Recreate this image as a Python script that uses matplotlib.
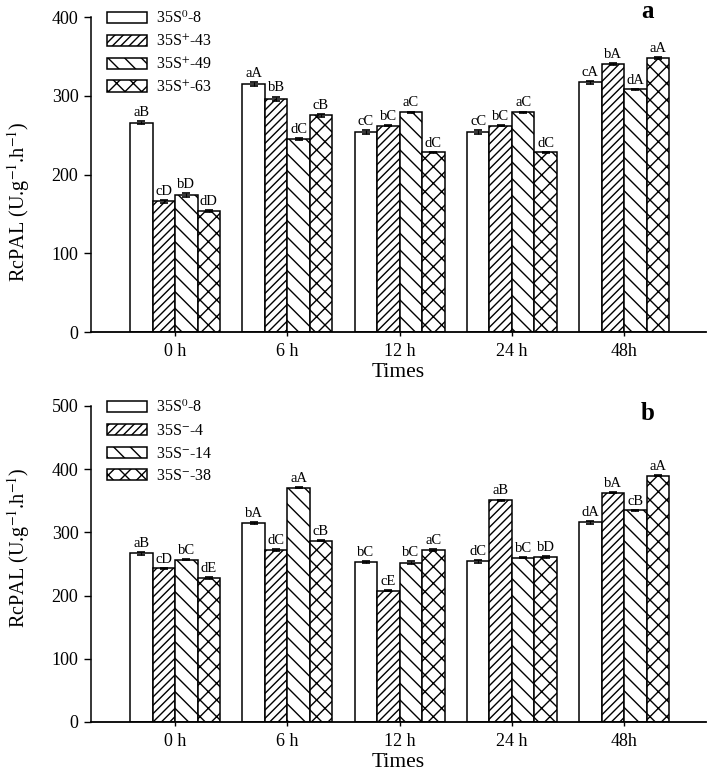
import numpy as np
import matplotlib
matplotlib.use("Agg")
import matplotlib.pyplot as plt

plt.rcParams['font.family'] = ['Liberation Serif', 'DejaVu Serif']
plt.rcParams['mathtext.fontset'] = 'stix'
plt.rcParams['hatch.linewidth'] = 1.0

# --- datos
times = ["0 h", "6 h", "12 h", "24 h", "48h"]

labels_a = ["35S$^{\\mathrm{0}}$-8", "35S$^{+}$-43", "35S$^{+}$-49", "35S$^{+}$-63"]
vals_a = [
    [266, 315, 254, 254, 317],   # 35S0-8
    [166, 296, 262, 262, 340],   # 35S+-43
    [174, 245, 279, 279, 308],   # 35S+-49
    [154, 275, 228, 228, 348],   # 35S+-63
]
err_a = [
    [2, 2, 2, 2, 2],
    [2, 3, 1, 1, 1],
    [2, 1, 1, 1, 1],
    [1, 2, 1, 1, 1],
]
let_a = [
    ["aB", "aA", "cC", "cC", "cA"],
    ["cD", "bB", "bC", "bC", "bA"],
    ["bD", "dC", "aC", "aC", "dA"],
    ["dD", "cB", "dC", "dC", "aA"],
]

labels_b = ["35S$^{\\mathrm{0}}$-8", "35S$^{-}$-4", "35S$^{-}$-14", "35S$^{-}$-38"]
vals_b = [
    [267, 315, 253, 254, 316],   # 35S0-8
    [243, 272, 208, 351, 363],   # 35S--4
    [257, 371, 252, 260, 335],   # 35S--14
    [228, 287, 272, 261, 390],   # 35S--38
]
err_b = [
    [2, 2, 2, 2, 2],
    [1, 1, 1, 1, 1],
    [1, 1, 2, 1, 1],
    [1, 1, 2, 1, 1],
]
let_b = [
    ["aB", "bA", "bC", "dC", "dA"],
    ["cD", "dC", "cE", "aB", "bA"],
    ["bC", "aA", "bC", "bC", "cB"],
    ["dE", "cB", "aC", "bD", "aA"],
]

hatches = ["", "////", "\\\\", "xx"]
W = 0.2


def panel(ax, vals, errs, lets, labels, ymax, ylab_y):
    x = np.arange(len(times))
    for i in range(4):
        pos = x + (i - 1.5) * W
        ax.bar(pos, vals[i], W, yerr=errs[i], color="white", edgecolor="black",
               hatch=hatches[i], linewidth=1.1, label=labels[i],
               error_kw=dict(elinewidth=0.8, capsize=3, capthick=1.2, ecolor="black"))
        for p, v, e, t in zip(pos, vals[i], errs[i], lets[i]):
            ax.annotate(t, (p, v + e), xytext=(0, 1.5), textcoords="offset points",
                        ha="center", va="bottom", fontsize=10.5)
    ax.set_xlim(-0.75, 4.73)
    ax.set_ylim(0, ymax)
    ax.set_yticks(np.arange(0, ymax + 1, 100))
    ax.set_xticks(x)
    ax.set_xticklabels(times)
    ax.spines["top"].set_visible(False)
    ax.spines["right"].set_visible(False)
    ax.spines["left"].set_linewidth(1.1)
    ax.spines["bottom"].set_linewidth(1.3)
    ax.tick_params(axis="y", direction="out", length=5, width=1.0, labelsize=13, pad=4)
    ax.tick_params(axis="x", direction="out", length=3, width=1.0, labelsize=13, pad=5)
    ax.set_xlabel("Times", fontsize=15.5, labelpad=2)
    ax.set_ylabel("RcPAL (U.g$^{\\mathrm{-1}}$.h$^{\\mathrm{-1}}$)", fontsize=14.5)
    ax.yaxis.set_label_coords(-0.096, ylab_y)
    ax.legend(loc="upper left", bbox_to_anchor=(0.015, 1.04), frameon=False,
              fontsize=11.5, handlelength=2.5, handleheight=0.7,
              handletextpad=0.6, labelspacing=0.42, borderaxespad=0)


fig = plt.figure(figsize=(7.09, 7.73), dpi=100)
ax1 = fig.add_axes([0.1283, 0.5705, 0.8675, 0.4075])
ax2 = fig.add_axes([0.1283, 0.066, 0.8675, 0.4088])

panel(ax1, vals_a, err_a, let_a, labels_a, 400, 0.413)
panel(ax2, vals_b, err_b, let_b, labels_b, 500, 0.55)

fig.text(647 / 709, 1 - 11 / 773, "a", fontsize=18, fontweight="bold", ha="center", va="center")
fig.text(648 / 709, 1 - 414 / 773, "b", fontsize=18, fontweight="bold", ha="center", va="center")

fig.savefig("out.png", dpi=100)
